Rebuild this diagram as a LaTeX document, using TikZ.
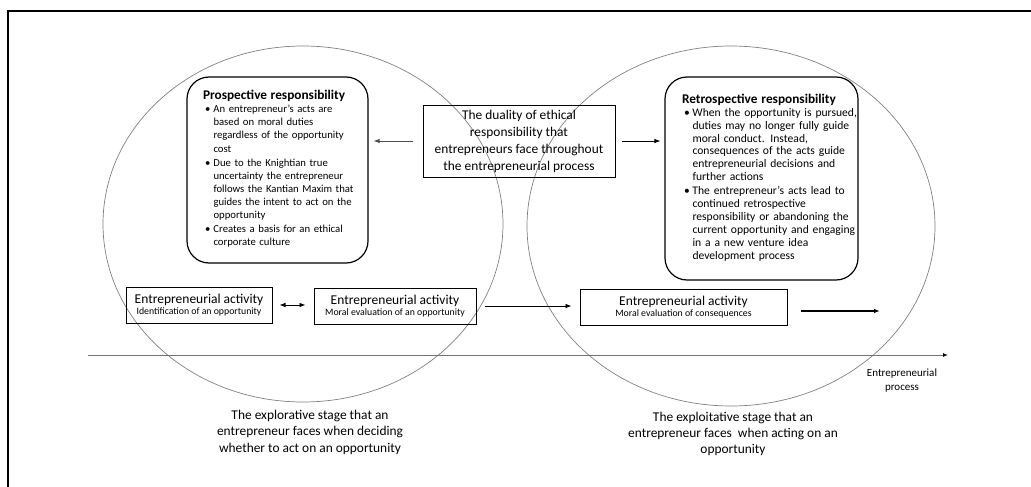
\documentclass[tikz,border=0pt]{standalone}
\usepackage{fontspec}
\setmainfont{Carlito}
\usetikzlibrary{arrows.meta}

% indent of the text inside the rounded boxes
\newlength{\respindent}
% box title and bullet followed by a block of hand-broken lines
\newcommand{\resptitle}[1]{\noindent\hspace*{\respindent}{\fontsize{13.3}{16}\selectfont\bfseries #1\par}}
\newcommand{\bpt}[1]{\par\noindent\hspace*{\respindent}\makebox[10.5pt][l]{\hspace{2pt}\textbullet}\makebox[0pt][l]{\begin{tabular}[t]{@{}l@{}}#1\end{tabular}}}
\newcommand{\tightlines}{\lineskiplimit -4pt\relax}

\begin{document}
\begin{tikzpicture}[x=1pt, y=-1pt, >={Latex[length=6pt,width=4.5pt]},
  stage/.style={draw=black!50, line width=0.7pt},
  resp/.style={draw, rounded corners=22pt, line width=1.2pt, align=left, inner sep=0pt},
  act/.style={draw, line width=1pt, align=center, inner sep=0pt, minimum height=36},
  ]
  \useasboundingbox (0,0) rectangle (1031,487);
  \draw[line width=2.2pt] (1031,11) -- (8,11) -- (8,487);

  % the two stages
  \draw[stage] (303,224) ellipse [x radius=200, y radius=178];
  \draw[stage] (731,226) ellipse [x radius=204, y radius=180];

  \node[resp, text width=181, minimum height=186,
        font=\fontsize{10.7}{13.1}\selectfont\tightlines\setlength{\respindent}{16pt}] (prosp) at (277.5,170)
    {\resptitle{Prospective responsibility}
     \bpt{An entrepreneur’s acts are\\ based on moral duties\\ regardless of the opportunity\\ cost}
     \bpt{Due to the Knightian true\\ uncertainty the entrepreneur\\ follows the Kantian Maxim that\\ guides the intent to act on the\\ opportunity}
     \bpt{Creates a basis for an ethical\\ corporate culture}};

  \node[resp, text width=193, minimum height=203,
        font=\fontsize{11.6}{12.9}\selectfont\tightlines\setlength{\respindent}{17pt}] (retro) at (761.5,178.5)
    {\resptitle{Retrospective responsibility}
     \bpt{When the opportunity is pursued,\\ duties may no longer fully guide\\ moral conduct. Instead,\\ consequences of the acts guide\\ entrepreneurial decisions and\\ further actions}
     \bpt{The entrepreneur’s acts lead to\\ continued retrospective\\ responsibility or abandoning the\\ current opportunity and engaging\\ in a a new venture idea\\ development process}};

  \node[draw, line width=1pt, align=center, minimum width=192, minimum height=72,
        font=\fontsize{13.4}{17}\selectfont] (duality) at (519,141)
    {The duality of ethical\\responsibility that\\entrepreneurs face throughout\\the entrepreneurial process};

  % activities along the process
  \node[act, minimum width=146] (ident) at (199,305)
    {\fontsize{13.5}{15}\selectfont Entrepreneurial activity\\[-1pt]{\fontsize{9.8}{12}\selectfont Identification of an opportunity}};
  \node[act, minimum width=162] (evalopp) at (395,306)
    {\fontsize{13.5}{15}\selectfont Entrepreneurial activity\\[-1pt]{\fontsize{9.8}{12}\selectfont Moral evaluation of an opportunity}};
  \node[act, minimum width=207] (evalcons) at (683.5,307)
    {\fontsize{13.5}{15}\selectfont Entrepreneurial activity\\[-1pt]{\fontsize{9.8}{12}\selectfont Moral evaluation of consequences}};
  \coordinate (next) at (880,311);

  \draw[->, black!70, line width=0.8pt, shorten <=10pt, shorten >=5pt] (duality.west) -- (duality.west -| prosp.east);
  \draw[->, line width=0.8pt, shorten <=6pt, shorten >=4pt] (duality.east) -- (duality.east -| retro.west);
  \draw[<->, line width=0.8pt, shorten <=7pt, shorten >=8pt] (ident) -- (ident -| evalopp.west);
  \draw[->, line width=0.8pt, shorten <=8pt, shorten >=8pt] (evalopp.east) -- (evalopp.east -| evalcons.west);
  \draw[->, line width=2pt, shorten <=13pt] (evalcons.east |- next) -- (next);

  % time axis
  \coordinate (t0) at (88,355);
  \coordinate (t1) at (948,355);
  \draw[-{Latex[length=5pt,width=4pt,color=black]}, black!55, line width=1pt] (t0) -- (t1);
  \node[align=center, font=\fontsize{11}{14}\selectfont] (proc) at (902,381) {Entrepreneurial\\process};

  \node[align=center, font=\fontsize{13.4}{16.5}\selectfont] (explore) at (310,432)
    {The explorative stage that an\\entrepreneur faces when deciding\\whether to act on an opportunity};
  \node[align=center, font=\fontsize{13.4}{16}\selectfont] (exploit) at (733,434)
    {The exploitative stage that an\\entrepreneur faces\ \ when acting on an\\opportunity};
\end{tikzpicture}
\end{document}
